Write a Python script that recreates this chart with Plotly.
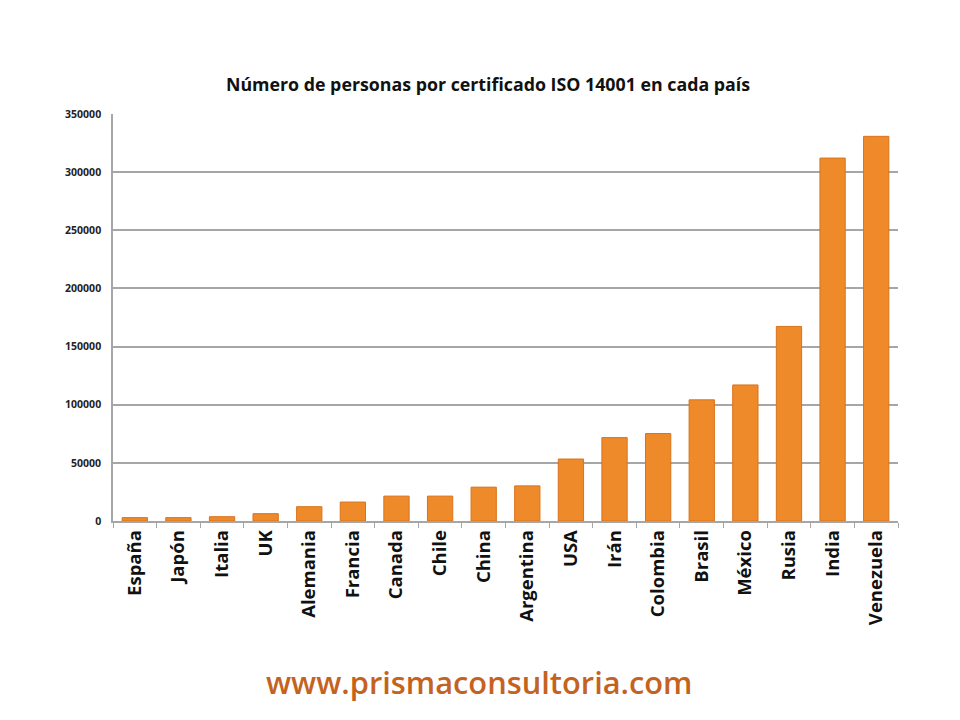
import plotly.graph_objects as go

countries = ["España", "Japón", "Italia", "UK", "Alemania", "Francia", "Canada", "Chile",
             "China", "Argentina", "USA", "Irán", "Colombia", "Brasil", "México", "Rusia",
             "India", "Venezuela"]
persons_per_cert = [2900, 2900, 3700, 6300, 12300, 16300, 21400, 21400,
                    29100, 30200, 53300, 71700, 75200, 104200, 117000, 167300,
                    312100, 330800]
y_ticks = [0, 50000, 100000, 150000, 200000, 250000, 300000, 350000]

fig = go.Figure()
fig.add_trace(go.Bar(
    x=countries, y=persons_per_cert,
    marker=dict(color="#EF8A2B", line=dict(color="#D9731C", width=1)),
))

fig.update_layout(
    width=960, height=720,
    paper_bgcolor="white", plot_bgcolor="white",
    margin=dict(l=105, r=70, t=106, b=207),
    bargap=0.42,
    showlegend=False,
    title=dict(text="<b>Número de personas por certificado ISO 14001 en cada país</b>",
               x=0.5, xanchor="center", y=0.893, yanchor="middle",
               font=dict(family="Open Sans", size=17.8, color="#111111")),
    font=dict(family="Open Sans"),
)
fig.update_yaxes(
    range=[0, 350000], tickvals=y_ticks, ticktext=[str(v) for v in y_ticks],
    showgrid=True, gridcolor="#A6A6A6", gridwidth=1.5,
    showline=True, linecolor="#A6A6A6", linewidth=1.5,
    tickfont=dict(family="Open Sans", size=10.5, color="#222222", weight="bold"),
    ticks="", ticklabelstandoff=8, zeroline=False,
)
fig.update_xaxes(
    tickangle=-90, showline=True, linecolor="#A6A6A6", linewidth=1.5,
    ticks="outside", tickson="boundaries", ticklen=5, tickcolor="#A6A6A6",
    tickfont=dict(family="Open Sans", size=18.5, color="#111111", weight="bold"),
    showgrid=False,
)
fig.add_annotation(
    text="www.prismaconsultoria.com", xref="paper", yref="paper",
    x=0.4675, y=-0.396, xanchor="center", yanchor="middle", showarrow=False,
    font=dict(family="Open Sans", size=30.8, color="#C4631F", weight=600),
)

fig.write_html("out.html")
